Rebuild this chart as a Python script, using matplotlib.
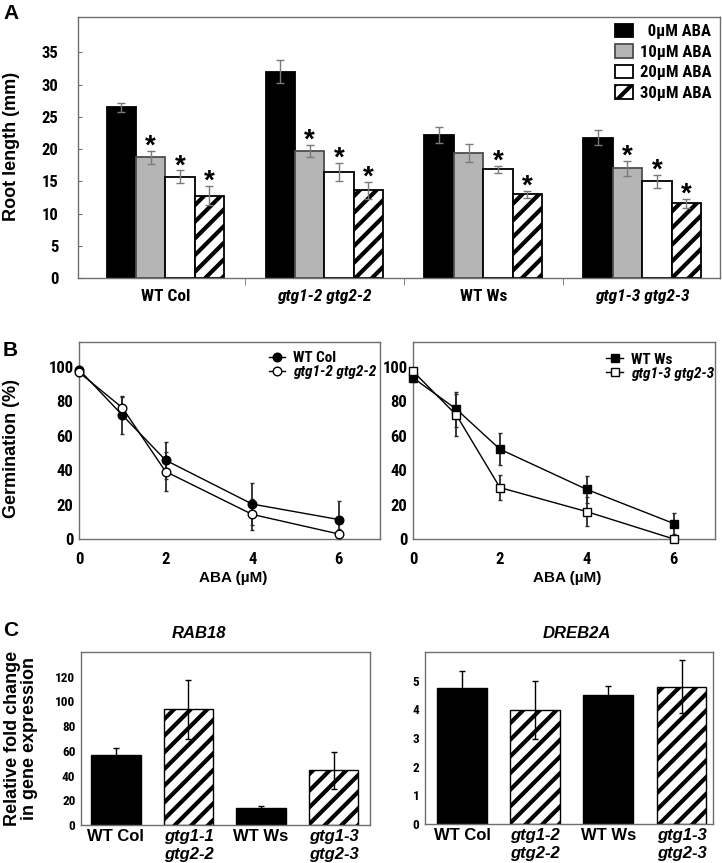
"""Root length, germination and gene expression of gtg mutants under ABA."""

import matplotlib

matplotlib.use("Agg")

import matplotlib.pyplot as plt
import numpy as np
from matplotlib import font_manager

# ---- panel A: root length (mm) ----
genotypes = ["WT Col", "gtg1-2 gtg2-2", "WT Ws", "gtg1-3 gtg2-3"]
aba_labels = ["  0µM ABA", "10µM ABA", "20µM ABA", "30µM ABA"]
root_0 = [26.5, 32.0, 22.2, 21.8]
root_0_err = [0.7, 1.8, 1.3, 1.2]
root_10 = [18.7, 19.7, 19.4, 17.0]
root_10_err = [1.0, 0.9, 1.4, 1.2]
root_20 = [15.7, 16.4, 16.9, 15.0]
root_20_err = [1.0, 1.4, 0.55, 1.0]
root_30 = [12.8, 13.6, 13.0, 11.6]
root_30_err = [1.5, 1.3, 0.55, 0.7]
sig_0 = [False, False, False, False]
sig_10 = [True, True, False, True]
sig_20 = [True, True, True, True]
sig_30 = [True, True, True, True]

# ---- panel B: germination (%) ----
aba_um = [0, 1, 2, 4, 6]
col_germ = [98.5, 72.0, 45.8, 20.3, 11.3]
col_germ_err = [2.0, 11.0, 10.8, 12.3, 10.8]
gtg12_germ = [96.9, 76.3, 39.2, 14.3, 2.9]
gtg12_germ_err = [2.0, 6.5, 11.4, 8.9, 3.0]
ws_germ = [93.7, 75.4, 52.2, 28.8, 9.0]
ws_germ_err = [2.5, 10.2, 9.4, 7.7, 6.0]
gtg13_germ = [97.5, 72.0, 29.9, 15.9, 0.0]
gtg13_germ_err = [2.0, 12.0, 7.5, 8.6, 0.0]

# ---- panel C: relative fold change ----
rab18_labels = ["WT Col", "gtg1-1\ngtg2-2", "WT Ws", "gtg1-3\ngtg2-3"]
dreb2a_labels = ["WT Col", "gtg1-2\ngtg2-2", "WT Ws", "gtg1-3\ngtg2-3"]
rab18 = [56.5, 93.5, 13.5, 44.4]
rab18_err = [5.7, 23.5, 1.6, 15.0]
dreb2a = [4.73, 3.97, 4.50, 4.79]
dreb2a_err = [0.62, 1.02, 0.31, 0.92]
mutant = [False, True, False, True]

installed = {f.name for f in font_manager.fontManager.ttflist}
NARROW = next(
    (n for n in ("Liberation Sans Narrow", "Arial Narrow", "Roboto Condensed")
     if n in installed),
    "Liberation Sans",
)
WIDE = "Liberation Sans"

plt.rcParams["font.family"] = [WIDE, "DejaVu Sans"]
plt.rcParams["hatch.linewidth"] = 3.0
plt.rcParams["hatch.color"] = "black"

W, H = 722, 863
fig = plt.figure(figsize=(W / 100, H / 100), dpi=100)
SPINE = "#6e6e6e"


def px_axes(left, top, right, bottom):
    return fig.add_axes([left / W, 1 - bottom / H, (right - left) / W, (bottom - top) / H])


def style_frame(ax):
    for spine in ax.spines.values():
        spine.set_color(SPINE)
        spine.set_linewidth(1.0)


def style_ticklabels(labels, family, size, italic_flags=None):
    for i, lbl in enumerate(labels):
        lbl.set_fontfamily(family)
        lbl.set_fontweight("bold")
        lbl.set_fontsize(size)
        if italic_flags is not None and italic_flags[i]:
            lbl.set_fontstyle("italic")


# ================= A =================
ax_a = px_axes(78, 17, 720, 278)
style_frame(ax_a)
x = np.arange(len(genotypes))
width = 0.185
series_a = [
    (root_0, root_0_err, sig_0, "black", "black", None),
    (root_10, root_10_err, sig_10, "#b5b5b5", "#4d4d4d", None),
    (root_20, root_20_err, sig_20, "white", "black", None),
    (root_30, root_30_err, sig_30, "white", "black", "//"),
]
for i, (vals, errs, sig, face, edge, hatch) in enumerate(series_a):
    pos = x + (i - 1.5) * width
    ax_a.bar(pos, vals, width, color=face, edgecolor=edge, linewidth=1.3,
             hatch=hatch, label=aba_labels[i], zorder=2)
    ax_a.errorbar(pos, vals, yerr=errs, fmt="none", ecolor="#7a7a7a",
                  elinewidth=1.0, capsize=3.2, capthick=1.0, zorder=3)
    for p, v, e, s in zip(pos, vals, errs, sig):
        if s:
            ax_a.annotate("*", (p, v + e), xytext=(0, -2), textcoords="offset points",
                          ha="center", va="baseline", fontsize=20, fontweight="bold")

ax_a.set_xlim(-0.55, 3.49)
ax_a.set_ylim(0, 40.5)
ax_a.set_yticks(range(0, 40, 5))
ax_a.set_xticks(x, labels=genotypes)
ax_a.set_xticks([0.5, 1.5, 2.5], minor=True)
ax_a.tick_params(axis="y", direction="in", length=3, pad=14, color=SPINE)
ax_a.tick_params(axis="x", which="major", length=0, pad=8)
ax_a.tick_params(axis="x", which="minor", length=5, color=SPINE)
style_ticklabels(ax_a.get_yticklabels(), NARROW, 12)
style_ticklabels(ax_a.get_xticklabels(), NARROW, 12.5, mutant)

ax_a.legend(loc="upper left", bbox_to_anchor=(615 / W, 1 - 24 / H),
            bbox_transform=fig.transFigure, frameon=False, borderpad=0,
            borderaxespad=0, handlelength=1.05, handleheight=0.85,
            handletextpad=0.45, labelspacing=0.3,
            prop=dict(family=NARROW, weight="bold", size=12))

fig.text(12 / W, 1 - 146 / H, "Root length (mm)", rotation=90, ha="center",
         va="center", fontsize=13, fontweight="bold")

# ================= B =================
ax_b1 = px_axes(79, 342, 380, 539)
ax_b2 = px_axes(413, 342, 715, 539)
panels_b = [
    (ax_b1, [("WT Col", col_germ, col_germ_err, "o", "black"),
             ("gtg1-2 gtg2-2", gtg12_germ, gtg12_germ_err, "o", "white")],
     (0.63, 0.955), 6.2),
    (ax_b2, [("WT Ws", ws_germ, ws_germ_err, "s", "black"),
             ("gtg1-3 gtg2-3", gtg13_germ, gtg13_germ_err, "s", "white")],
     (0.64, 0.945), 5.6),
]
for ax, series, legend_xy, msize in panels_b:
    style_frame(ax)
    for label, vals, errs, marker, face in series:
        ax.errorbar(aba_um, vals, yerr=errs, fmt="none", ecolor="#2a2a2a",
                    elinewidth=1.3, capsize=1.6, capthick=1.0, zorder=2, clip_on=False)
    for label, vals, errs, marker, face in series:
        ax.plot(aba_um, vals, "-", marker=marker, color="black", lw=1.0,
                mfc=face, mec="black", mew=1.0, ms=msize, label=label,
                zorder=3, clip_on=False)
    ax.set_xlim(0, 6.95)
    ax.set_ylim(0, 114.5)
    ax.set_xticks([0, 2, 4, 6])
    ax.set_yticks(range(0, 101, 20))
    ax.tick_params(axis="both", length=0)
    ax.tick_params(axis="x", pad=9)
    ax.tick_params(axis="y", pad=4)
    style_ticklabels(ax.get_xticklabels(), NARROW, 12)
    style_ticklabels(ax.get_yticklabels(), NARROW, 12)
    leg = ax.legend(loc="upper left", bbox_to_anchor=legend_xy, frameon=False,
                    borderpad=0, borderaxespad=0, handlelength=1.1,
                    handletextpad=0.5, labelspacing=0.0, numpoints=1,
                    prop=dict(family=NARROW, weight="bold", size=11))
    leg.get_texts()[1].set_fontstyle("italic")

fig.text(233 / W, 1 - 578 / H, "ABA (µM)", ha="center", va="center",
         fontsize=11, fontweight="bold")
fig.text(567 / W, 1 - 578 / H, "ABA (µM)", ha="center", va="center",
         fontsize=11, fontweight="bold")
fig.text(12 / W, 1 - 448 / H, "Germination (%)", rotation=90, ha="center",
         va="center", fontsize=13, fontweight="bold")

# ================= C =================
ax_c1 = px_axes(81, 652, 370, 825)
ax_c2 = px_axes(425, 652, 713, 824)
panels_c = [
    (ax_c1, rab18, rab18_err, rab18_labels, (-0.48, 3.5), (0, 140), range(0, 121, 20)),
    (ax_c2, dreb2a, dreb2a_err, dreb2a_labels, (-0.505, 3.43), (0, 6.0), range(0, 6)),
]
for ax, vals, errs, labels, xlim, ylim, yticks in panels_c:
    style_frame(ax)
    xc = np.arange(len(vals))
    for xi, v, is_mut in zip(xc, vals, mutant):
        ax.bar(xi, v, 0.68, color="white" if is_mut else "black",
               edgecolor="black", linewidth=1.0,
               hatch="//" if is_mut else None, zorder=2)
    ax.errorbar(xc, vals, yerr=errs, fmt="none", ecolor="black", elinewidth=1.0,
                capsize=2.0, capthick=1.0, zorder=3)
    ax.set_xlim(*xlim)
    ax.set_ylim(*ylim)
    ax.set_yticks(list(yticks))
    ax.set_xticks(xc, labels=labels)
    ax.tick_params(axis="both", length=0)
    ax.tick_params(axis="x", pad=3)
    ax.tick_params(axis="y", pad=4)
    style_ticklabels(ax.get_yticklabels(), NARROW, 9.5)
    style_ticklabels(ax.get_xticklabels(), WIDE, 12, mutant)

fig.text(199 / W, 1 - 633 / H, "RAB18", ha="center", va="center",
         fontsize=12, fontweight="bold", fontstyle="italic")
fig.text(577 / W, 1 - 633 / H, "DREB2A", ha="center", va="center",
         fontsize=12, fontweight="bold", fontstyle="italic")
fig.text(21 / W, 1 - 738 / H, "Relative fold change\nin gene expression",
         rotation=90, ha="center", va="center", fontsize=13, fontweight="bold",
         linespacing=1.05)

# panel letters
for letter, top in (("A", 4), ("B", 341), ("C", 621)):
    fig.text(3 / W, 1 - top / H, letter, ha="left", va="top", fontsize=15,
             fontweight="bold")

fig.savefig("out.png", dpi=100)
plt.close(fig)
